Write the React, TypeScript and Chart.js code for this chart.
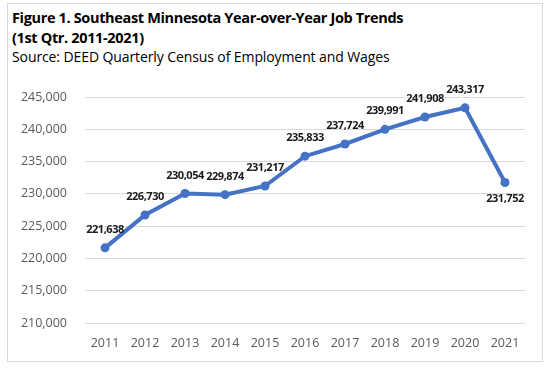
import React, { useEffect, useRef } from "react";
import { Chart, registerables } from "chart.js";

Chart.register(...registerables);

const categories = ["2011", "2012", "2013", "2014", "2015", "2016", "2017", "2018", "2019", "2020", "2021"];
const jobs = [221638, 226730, 230054, 229874, 231217, 235833, 237724, 239991, 241908, 243317, 231752];
const labelsBelow = ["2021"];
const yMin = 210000;
const yMax = 245000;
const yStep = 5000;

const FONT = "'Open Sans', 'Noto Sans', sans-serif";

const dataLabelPlugin = {
  id: "dataLabels",
  afterDatasetsDraw(chart: any) {
    const ctx = chart.ctx;
    const meta = chart.getDatasetMeta(0);
    ctx.save();
    ctx.font = `bold 11px ${FONT}`;
    (ctx as any).letterSpacing = "-0.45px";
    ctx.fillStyle = "#1a1a1a";
    ctx.textAlign = "center";
    ctx.textBaseline = "middle";
    meta.data.forEach((pt: any, i: number) => {
      const v = jobs[i];
      const txt = v.toLocaleString("en-US");
      const below = labelsBelow.includes(categories[i]);
      ctx.fillText(txt, pt.x, below ? pt.y + 16 : pt.y - 18);
    });
    ctx.restore();
  },
};

export default function App() {
  const ref = useRef<HTMLCanvasElement>(null);
  useEffect(() => {
    if (!ref.current) return;
    const chart = new Chart(ref.current, {
      type: "line",
      data: {
        labels: categories,
        datasets: [
          {
            data: jobs,
            borderColor: "#4472C4",
            backgroundColor: "#4472C4",
            borderWidth: 4,
            pointRadius: 4.5,
            pointBackgroundColor: "#4472C4",
            pointBorderWidth: 0,
            tension: 0,
          },
        ],
      },
      options: {
        animation: false,
        responsive: false,
        maintainAspectRatio: false,
        layout: { padding: { left: 15, right: 26, top: 97, bottom: 15 } },
        plugins: { legend: { display: false }, title: { display: false }, tooltip: { enabled: false } },
        scales: {
          x: {
            offset: true,
            grid: { display: false },
            border: { display: false },
            ticks: { color: "#595959", font: { family: FONT, size: 12.5 }, padding: 5 },
            afterFit: (s: any) => { s.height = 30; },
          },
          y: {
            min: yMin,
            max: yMax,
            grid: { color: "#d9d9d9", lineWidth: 1, drawTicks: false },
            border: { display: false },
            ticks: {
              stepSize: yStep,
              color: "#595959",
              font: { family: FONT, size: 12.5 },
              padding: 18,
              callback: (v: any) => Number(v).toLocaleString("en-US"),
            },
            afterFit: (s: any) => { s.width = 70; },
          },
        },
      },
      plugins: [dataLabelPlugin],
    });
    return () => chart.destroy();
  }, []);

  return (
    <div style={{ position: "absolute", left: 0, top: 0, width: 551, height: 368, background: "#fff", overflow: "hidden" }}>
      <div style={{ position: "absolute", left: 7, top: 3, width: 534, height: 357, border: "1px solid #d9d9d9" }} />
      <div style={{ position: "absolute", left: 12, top: 8, fontFamily: FONT, fontWeight: 700, fontSize: 14.5, lineHeight: "20px", color: "#000", letterSpacing: -0.35, whiteSpace: "nowrap" }}>
        <div>Figure 1. Southeast Minnesota Year-over-Year Job Trends</div>
        <div>(1st Qtr. 2011-2021)</div>
      </div>
      <div style={{ position: "absolute", left: 12, top: 47, fontFamily: FONT, fontSize: 14, lineHeight: "19px", color: "#000", letterSpacing: -0.1, whiteSpace: "nowrap" }}>
        Source: DEED Quarterly Census of Employment and Wages
      </div>
      <canvas ref={ref} width={551} height={368} style={{ position: "absolute", left: 0, top: 0, width: 551, height: 368 }} />
    </div>
  );
}
